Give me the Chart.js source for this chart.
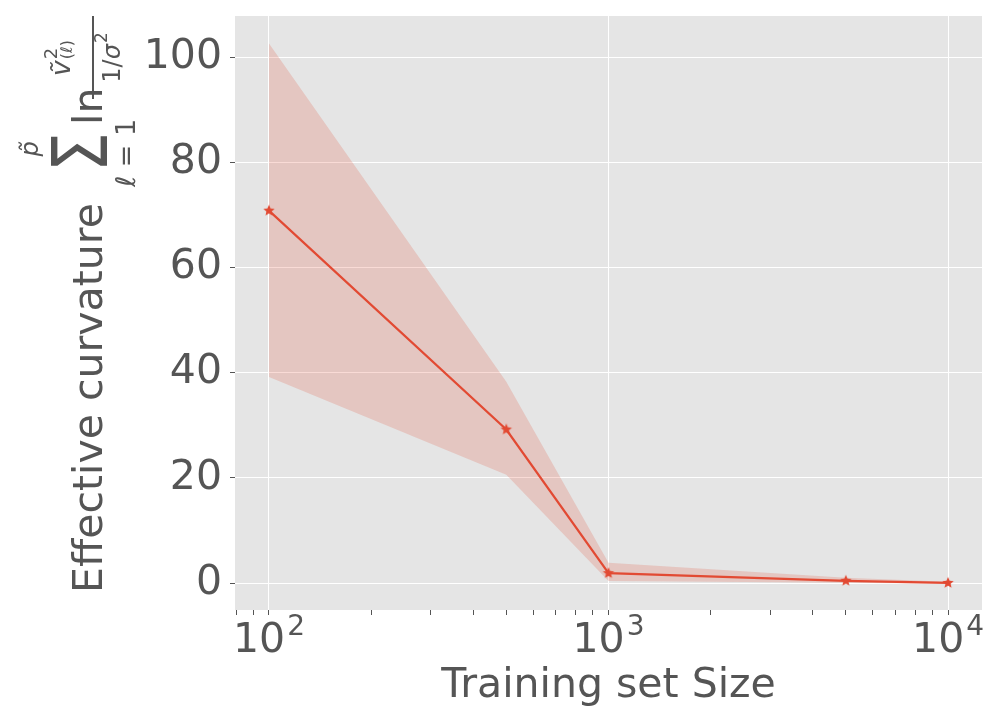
<!DOCTYPE html>
<html>
<head>
<meta charset="utf-8">
<script src="https://cdn.jsdelivr.net/npm/chart.js@4.4.0/dist/chart.umd.min.js"></script>
<style>
  html, body { margin: 0; padding: 0; background: #ffffff; }
  #wrap { width: 1000px; height: 722px; }
</style>
</head>
<body>
<div id="wrap"><canvas id="curvature-chart" width="1000" height="722"></canvas></div>
<script>
// data
const trainSizes = [100, 500, 1000, 5000, 10000];
const curvatureMean = [70.8, 29.2, 1.9, 0.45, 0.05];
const curvatureUpper = [102.6, 38.3, 3.9, 1.05, 0.25];
const curvatureLower = [39.2, 20.6, 0.4, 0.1, -0.1];

const xMajorTicks = [100, 1000, 10000];
const xMajorExponents = ['2', '3', '4'];
const xMinorTicks = [80, 90, 200, 300, 400, 500, 600, 700, 800, 900,
  2000, 3000, 4000, 5000, 6000, 7000, 8000, 9000];
const yTicks = [0, 20, 40, 60, 80, 100];

const xLabel = 'Training set Size';
const yLabel = 'Effective curvature';

const RED = '#E24A33';
const TEXT = '#555555';
const FONT = '"DejaVu Sans", sans-serif';

// filled five point star used as marker
function makeStar(r, color) {
  const c = document.createElement('canvas');
  const size = Math.ceil(r * 2 + 2);
  c.width = size; c.height = size;
  const g = c.getContext('2d');
  g.fillStyle = color;
  g.beginPath();
  for (let i = 0; i < 10; i++) {
    const rad = i % 2 === 0 ? r : r * 0.45;
    const a = -Math.PI / 2 + i * Math.PI / 5;
    const px = size / 2 + rad * Math.cos(a);
    const py = size / 2 + rad * Math.sin(a);
    if (i === 0) g.moveTo(px, py); else g.lineTo(px, py);
  }
  g.closePath();
  g.fill();
  return c;
}
const starMarker = makeStar(6, RED);

// grey plotting panel
const panelBg = {
  id: 'panelBg',
  beforeDraw(chart) {
    const { ctx, chartArea: a } = chart;
    ctx.save();
    ctx.fillStyle = '#E5E5E5';
    ctx.fillRect(a.left, a.top, a.right - a.left, a.bottom - a.top);
    ctx.restore();
  }
};

// x tick labels as 10^n, and both axis titles
const axisText = {
  id: 'axisText',
  afterDraw(chart) {
    const { ctx, chartArea: a } = chart;
    const xs = chart.scales.x;
    ctx.save();
    ctx.fillStyle = TEXT;
    ctx.textBaseline = 'alphabetic';

    // x tick labels
    xMajorTicks.forEach((v, i) => {
      const x = xs.getPixelForValue(v);
      ctx.font = '41px ' + FONT;
      const w1 = ctx.measureText('10').width;
      ctx.font = '28px ' + FONT;
      const w2 = ctx.measureText(xMajorExponents[i]).width;
      const start = x - (w1 + w2 + 2) / 2;
      ctx.font = '41px ' + FONT;
      ctx.textAlign = 'left';
      ctx.fillText('10', start, a.bottom + 42);
      ctx.font = '28px ' + FONT;
      ctx.fillText(xMajorExponents[i], start + w1 + 2, a.bottom + 25);
    });

    // x title
    ctx.font = '41px ' + FONT;
    ctx.textAlign = 'center';
    ctx.fillText(xLabel, (a.left + a.right) / 2, a.bottom + 87);

    // y title, rotated: s runs upwards, y runs to the right of the baseline
    ctx.translate(102, a.bottom - 17);
    ctx.rotate(-Math.PI / 2);
    const put = (s, y, str, font, align) => {
      ctx.font = font;
      ctx.textAlign = align || 'left';
      ctx.fillText(str, s, y);
      return ctx.measureText(str).width;
    };
    put(0, 0, yLabel, '41px ' + FONT);

    // big sum sign
    ctx.save();
    ctx.translate(421, 5);
    ctx.scale(0.82, 1);
    put(0, 0, '\u03A3', '77px ' + FONT);
    ctx.restore();

    // lower limit l = 1
    ctx.font = 'italic 27px ' + FONT;
    const wl = ctx.measureText('\u2113').width;
    ctx.font = '27px ' + FONT;
    const wr = ctx.measureText(' = 1').width;
    const s0 = 440 - (wl + wr) / 2;
    put(s0, 33, '\u2113', 'italic 27px ' + FONT);
    put(s0 + wl, 33, ' = 1', '27px ' + FONT);

    // upper limit p~
    put(444, -64, 'p\u0303', 'italic 24px ' + FONT, 'center');

    // ln
    put(468, 0, 'ln', '41px ' + FONT);

    // fraction bar
    const fracL = 494, fracR = 577, fracC = (fracL + fracR) / 2;
    ctx.strokeStyle = TEXT;
    ctx.lineWidth = 2;
    ctx.beginPath();
    ctx.moveTo(fracL, -9);
    ctx.lineTo(fracR, -9);
    ctx.stroke();

    // numerator v~ ^2 _(l)
    ctx.font = 'italic 27px ' + FONT;
    const wv = ctx.measureText('\u1E7D').width;
    ctx.font = '17px ' + FONT;
    const ws = Math.max(ctx.measureText('2').width, ctx.measureText('(\u2113)').width);
    const n0 = fracC - (wv + ws + 1) / 2;
    put(n0, -32, '\u1E7D', 'italic 27px ' + FONT);
    put(n0 + wv + 1, -45, '2', '18px ' + FONT);
    put(n0 + wv + 1, -30, '(\u2113)', '16px ' + FONT);

    // denominator 1/sigma^2
    ctx.font = '24px ' + FONT;
    const w1 = ctx.measureText('1/').width;
    ctx.font = 'italic 24px ' + FONT;
    const wsig = ctx.measureText('\u03C3').width;
    ctx.font = '17px ' + FONT;
    const w2 = ctx.measureText('2').width;
    const d0 = fracC - (w1 + wsig + w2 + 1) / 2;
    put(d0, 18, '1/', '24px ' + FONT);
    put(d0 + w1, 18, '\u03C3', 'italic 24px ' + FONT);
    put(d0 + w1 + wsig + 1, 5, '2', '17px ' + FONT);
    ctx.restore();
  }
};

const ctx = document.getElementById('curvature-chart').getContext('2d');

new Chart(ctx, {
  type: 'line',
  data: {
    labels: trainSizes,
    datasets: [
      {
        label: 'mean',
        data: trainSizes.map((x, i) => ({ x: x, y: curvatureMean[i] })),
        borderColor: RED,
        borderWidth: 2.2,
        pointStyle: starMarker,
        pointRadius: 6,
        fill: false,
        tension: 0
      },
      {
        label: 'upper',
        data: trainSizes.map((x, i) => ({ x: x, y: curvatureUpper[i] })),
        borderWidth: 0,
        borderColor: 'rgba(0,0,0,0)',
        pointRadius: 0,
        backgroundColor: 'rgba(226, 74, 51, 0.2)',
        fill: '+1',
        tension: 0
      },
      {
        label: 'lower',
        data: trainSizes.map((x, i) => ({ x: x, y: curvatureLower[i] })),
        borderWidth: 0,
        borderColor: 'rgba(0,0,0,0)',
        pointRadius: 0,
        fill: false,
        tension: 0
      }
    ]
  },
  options: {
    responsive: false,
    animation: false,
    devicePixelRatio: 1,
    layout: { padding: { top: 16, right: 18, left: 0, bottom: 0 } },
    plugins: {
      legend: { display: false },
      tooltip: { enabled: false }
    },
    scales: {
      x: {
        type: 'logarithmic',
        min: Math.pow(10, 1.9),
        max: Math.pow(10, 4.1),
        border: { display: false },
        grid: {
          color: (c) => (c.tick && xMajorTicks.includes(c.tick.value)) ? '#ffffff' : 'rgba(0,0,0,0)',
          tickColor: TEXT,
          tickLength: 5,
          lineWidth: 1
        },
        ticks: {
          autoSkip: false,
          maxRotation: 0,
          callback: () => ''
        },
        afterBuildTicks: (scale) => {
          scale.ticks = xMinorTicks.concat(xMajorTicks)
            .sort((a, b) => a - b)
            .map(v => ({ value: v, major: xMajorTicks.includes(v) }));
        },
        afterFit: (scale) => {
          scale.height = 112;
          scale.paddingLeft = 0;
          scale.paddingRight = 0;
        }
      },
      y: {
        type: 'linear',
        min: -5.1,
        max: 107.8,
        border: { display: false },
        grid: {
          color: '#ffffff',
          tickColor: TEXT,
          tickLength: 5,
          lineWidth: 1
        },
        ticks: {
          color: TEXT,
          padding: 8,
          font: { family: 'DejaVu Sans', size: 41 }
        },
        afterBuildTicks: (scale) => {
          scale.ticks = yTicks.map(v => ({ value: v }));
        },
        afterFit: (scale) => {
          scale.width = 235;
          scale.paddingTop = 0;
          scale.paddingBottom = 0;
        }
      }
    }
  },
  plugins: [panelBg, axisText]
});
</script>
</body>
</html>
